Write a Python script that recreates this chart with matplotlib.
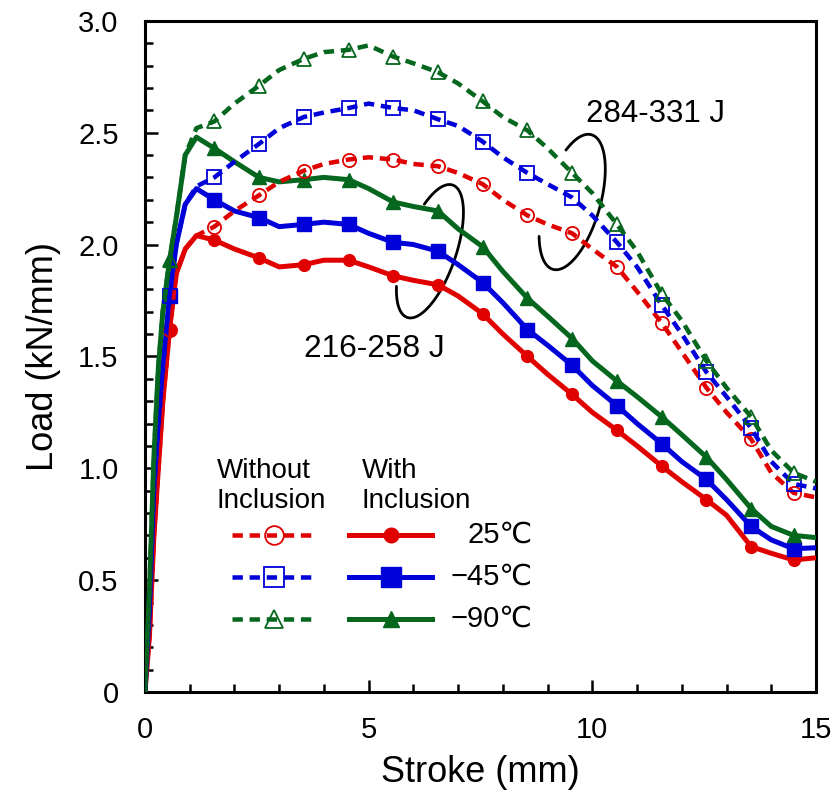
import numpy as np
import matplotlib
matplotlib.use("Agg")
import matplotlib.pyplot as plt
from matplotlib.ticker import MultipleLocator, FixedLocator

plt.rcParams['font.family'] = ['Liberation Sans', 'DejaVu Sans']

# ---------------- data: load (kN/mm) vs stroke (mm) ----------------
stroke_with = [0, 0.1, 0.2, 0.3, 0.4, 0.55, 0.7, 0.9, 1.15, 1.55, 2.0, 2.55, 3.0,
               3.55, 4.0, 4.55, 5.0, 5.55, 6.0, 6.55, 7.0, 7.55, 8.0, 8.55, 9.0,
               9.55, 10.0, 10.55, 11.0, 11.55, 12.0, 12.55, 13.0, 13.55, 14.0,
               14.5, 15.0]

load_25_with = [0, 0.25, 0.70, 1.00, 1.30, 1.62, 1.87, 1.98, 2.04, 2.02, 1.98, 1.94, 1.90,
                1.91, 1.93, 1.93, 1.90, 1.86, 1.84, 1.82, 1.77, 1.69, 1.60, 1.50, 1.42,
                1.33, 1.25, 1.17, 1.10, 1.01, 0.94, 0.86, 0.79, 0.65, 0.62,
                0.59, 0.60]
load_m45_with = [0, 0.35, 0.90, 1.20, 1.45, 1.77, 2.00, 2.18, 2.25, 2.20, 2.15, 2.12, 2.08,
                 2.09, 2.10, 2.09, 2.05, 2.01, 2.00, 1.97, 1.91, 1.83, 1.74, 1.62, 1.55,
                 1.46, 1.37, 1.28, 1.20, 1.11, 1.03, 0.95, 0.86, 0.74, 0.68,
                 0.64, 0.645]
load_m90_with = [0, 0.45, 1.05, 1.45, 1.70, 1.93, 2.12, 2.40, 2.48, 2.43, 2.37, 2.30, 2.28,
                 2.29, 2.30, 2.29, 2.25, 2.19, 2.17, 2.15, 2.07, 1.99, 1.88, 1.76, 1.68,
                 1.58, 1.48, 1.39, 1.32, 1.23, 1.15, 1.05, 0.95, 0.82, 0.74,
                 0.70, 0.69]

stroke_without = stroke_with
load_25_without = [0, 0.25, 0.70, 1.00, 1.30, 1.62, 1.87, 1.98, 2.04, 2.08, 2.15, 2.22, 2.28,
                   2.33, 2.36, 2.38, 2.39, 2.38, 2.36, 2.35, 2.32, 2.27, 2.20, 2.13, 2.09,
                   2.05, 1.98, 1.90, 1.79, 1.65, 1.52, 1.36, 1.25, 1.13, 0.98,
                   0.89, 0.87]
load_m45_without = [0, 0.35, 0.90, 1.20, 1.45, 1.77, 2.00, 2.18, 2.26, 2.30, 2.37, 2.45, 2.52,
                    2.57, 2.59, 2.61, 2.63, 2.61, 2.60, 2.56, 2.53, 2.46, 2.39, 2.32, 2.27,
                    2.21, 2.13, 2.01, 1.90, 1.73, 1.60, 1.43, 1.32, 1.18, 1.03,
                    0.93, 0.91]
load_m90_without = [0, 0.45, 1.05, 1.45, 1.70, 1.93, 2.12, 2.40, 2.52, 2.55, 2.63, 2.71, 2.78,
                    2.83, 2.86, 2.87, 2.89, 2.84, 2.81, 2.77, 2.72, 2.64, 2.57, 2.51, 2.43,
                    2.32, 2.23, 2.09, 1.97, 1.78, 1.66, 1.48, 1.36, 1.23, 1.08,
                    0.98, 0.94]

# indices of the points that carry a symbol (one per mm of stroke)
marker_idx = [5, 9, 11, 13, 15, 17, 19, 21, 23, 25, 27, 29, 31, 33, 35]

temperatures = ['25℃', '−45℃', '−90℃']
energy_without = '284-331 J'
energy_with = '216-258 J'

x_ticks = [0, 5, 10, 15]
y_ticks = [0, 0.5, 1.0, 1.5, 2.0, 2.5, 3.0]
y_tick_labels = ['0', '0.5', '1.0', '1.5', '2.0', '2.5', '3.0']

RED = '#E00000'
BLUE = '#0000D8'
GREEN = '#05661E'

# ---------------- figure ----------------
fig = plt.figure(figsize=(8.37, 8.0), dpi=100)
ax = fig.add_axes([0.1732, 0.135, 0.8017, 0.839])

LW = 3.6
dash = (2.3, 1.5)

series = [
    (load_25_without, load_25_with, RED, 'o', 9.5, 8.5),
    (load_m45_without, load_m45_with, BLUE, 's', 10.5, 10.5),
    (load_m90_without, load_m90_with, GREEN, '^', 10.0, 10.0),
]

for wo, w, col, mk, ms_open, ms_full in series:
    ax.plot(stroke_with, w, color=col, lw=LW, marker=mk, ms=ms_full,
            markevery=marker_idx, mfc=col, mec=col, zorder=3)
for wo, w, col, mk, ms_open, ms_full in series:
    ax.plot(stroke_without, wo, color=col, lw=LW * 0.9, ls=(0, dash), marker=mk,
            ms=ms_open, markevery=marker_idx, mfc='none', mec=col, mew=1.3,
            zorder=4)

ax.set_xlim(0, 15)
ax.set_ylim(0, 3.0)
ax.xaxis.set_major_locator(FixedLocator(x_ticks))
ax.xaxis.set_minor_locator(MultipleLocator(1))
ax.yaxis.set_major_locator(FixedLocator(y_ticks))
ax.yaxis.set_minor_locator(MultipleLocator(0.1))
ax.set_xticklabels([str(v) for v in x_ticks])
ax.set_yticklabels(y_tick_labels)
ax.tick_params(which='both', direction='in', top=False, right=False,
               width=1.8, labelsize=21)
ax.tick_params(which='major', length=9)
ax.tick_params(which='minor', length=5.5)
ax.tick_params(axis='x', which='major', pad=17)
ax.tick_params(axis='y', which='major', pad=19)
for sp in ax.spines.values():
    sp.set_linewidth(2.2)

ax.set_xlabel('Stroke (mm)', fontsize=26, labelpad=8)
ax.set_ylabel('Load (kN/mm)', fontsize=26, labelpad=12)

# ---------------- energy groups: open ellipses ----------------
px_per_x = ax.bbox.width / 15.0
px_per_y = ax.bbox.height / 3.0


def open_ellipse(cx, cy, a_px, b_px, tilt_deg, gap=(97, 226)):
    t = np.linspace(0, 2 * np.pi, 721)
    th = np.deg2rad(tilt_deg)
    u = np.array([np.cos(th), np.sin(th)])
    v = np.array([-np.sin(th), np.cos(th)])
    dx = a_px * np.cos(t) * u[0] + b_px * np.sin(t) * v[0]
    dy = a_px * np.cos(t) * u[1] + b_px * np.sin(t) * v[1]
    ang = np.degrees(np.arctan2(dy, dx)) % 360
    keep = ~((ang > gap[0]) & (ang < gap[1]))
    # roll so the visible arc is continuous
    idx = np.where(~keep)[0]
    order = np.roll(np.arange(len(t)), -(idx[-1] + 1))
    order = order[keep[order]]
    xs = cx + dx[order] / px_per_x
    ys = cy + dy[order] / px_per_y
    ax.plot(xs, ys, color='black', lw=2.0, zorder=2, solid_capstyle='round')


open_ellipse(9.55, 2.19, 70, 28, 74)
open_ellipse(6.37, 1.97, 70, 26, 71)

ax.text(11.42, 2.584, energy_without, fontsize=22.5, ha='center', va='center')
ax.text(5.12, 1.534, energy_with, fontsize=22.8, ha='center', va='center')

# ---------------- legend block ----------------
ax.text(1.61, 0.92, 'Without\nInclusion', fontsize=20, ha='left', va='center',
        linespacing=1.2)
ax.text(4.85, 0.92, 'With\nInclusion', fontsize=20, ha='left', va='center',
        linespacing=1.2)

rows = [0.702, 0.514, 0.326]
leg_sizes_open = [13.5, 14.5, 12.5]
leg_sizes_full = [10.5, 14, 11.5]
for (wo, w, col, mk, _, _), yr, lab, so, sf in zip(series, rows, temperatures,
                                                   leg_sizes_open, leg_sizes_full):
    ax.plot([1.945, 3.85], [yr, yr], color=col, lw=LW * 0.9, ls=(0, dash))
    ax.plot([2.88], [yr], marker=mk, ms=so, mfc='none', mec=col, mew=1.3, ls='none')
    ax.plot([4.56, 6.42], [yr, yr], color=col, lw=LW)
    ax.plot([5.50], [yr], marker=mk, ms=sf, mfc=col, mec=col, ls='none')
    ax.text(8.67, yr, lab, fontsize=21, ha='right', va='center')

fig.savefig('out.png', dpi=100)
